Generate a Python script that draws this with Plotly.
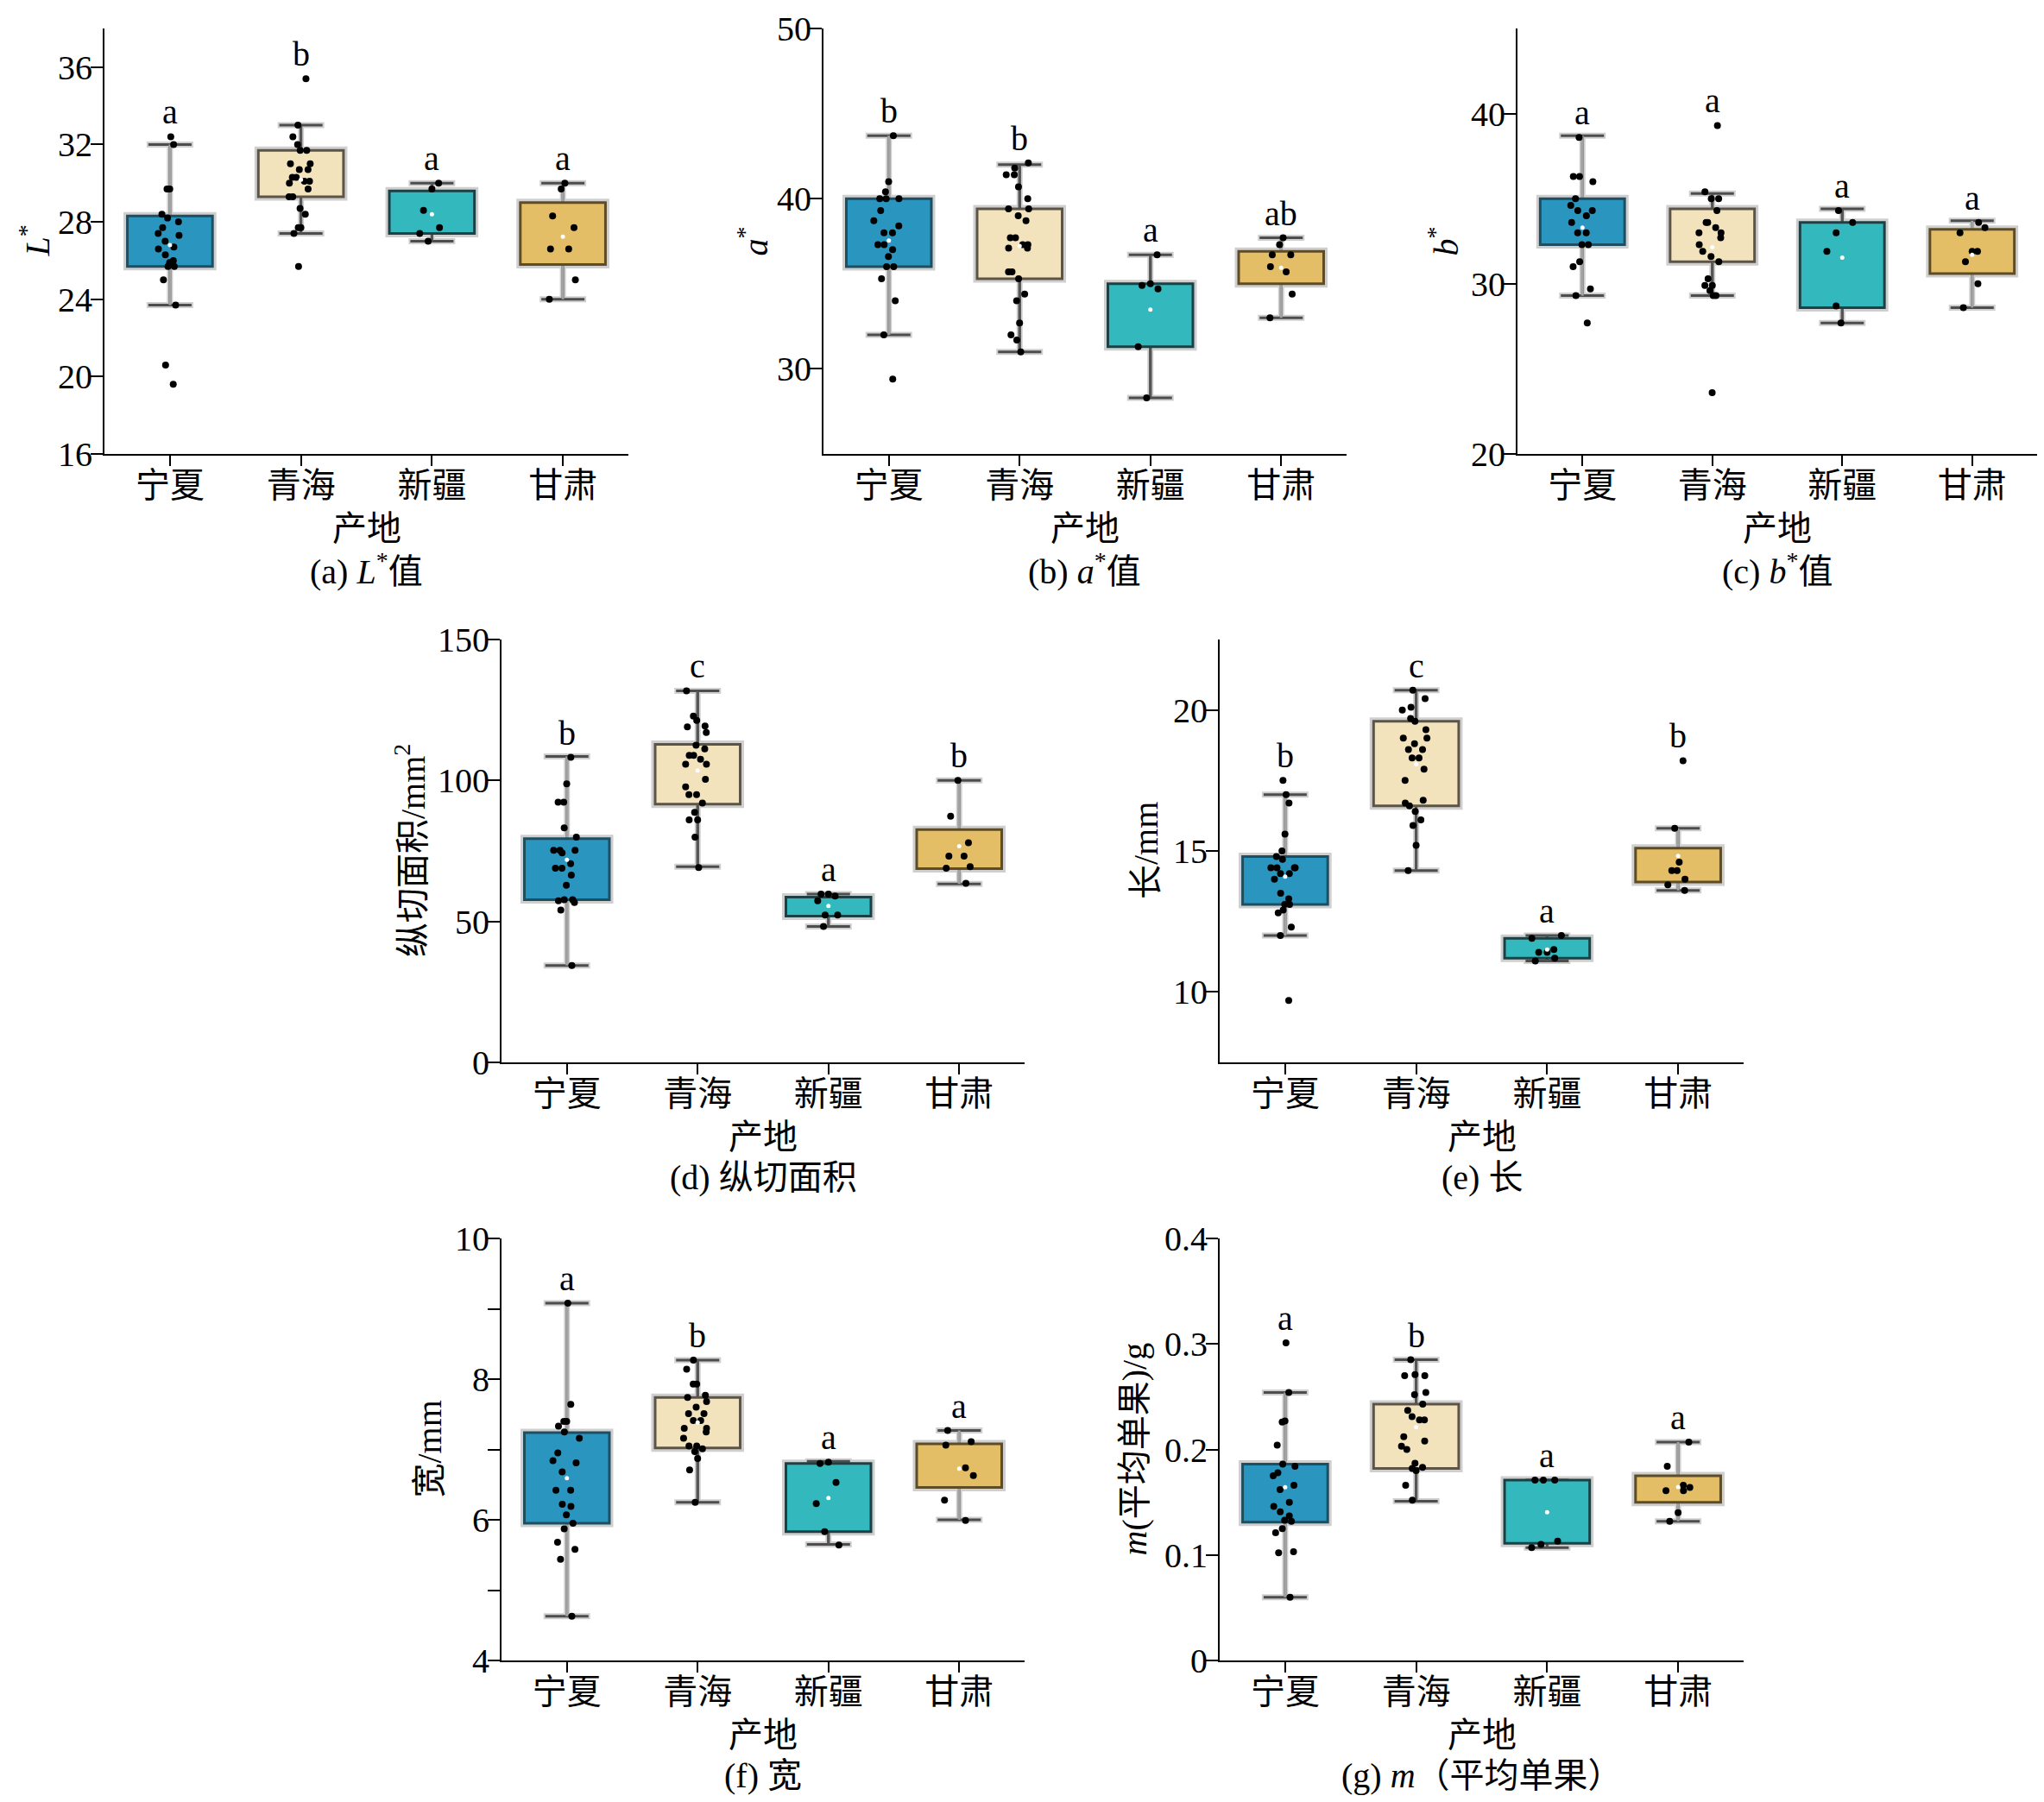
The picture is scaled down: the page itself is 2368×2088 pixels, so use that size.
import numpy as np
import plotly.graph_objects as go

categories = ['宁夏', '青海', '新疆', '甘肃']

# (a) L*
L_points = [
    [32.4, 32.0, 29.7, 29.7, 28.4, 28.2, 28.0, 27.7, 27.4, 27.3, 27.0, 26.7, 26.6, 26.3, 26.0, 25.9, 25.7, 25.7, 25.0, 23.7, 20.6, 19.6],
    [35.4, 33.0, 32.4, 32.0, 31.7, 31.7, 31.0, 31.0, 30.7, 30.7, 30.3, 30.3, 30.1, 30.1, 30.0, 29.7, 29.3, 29.3, 28.7, 28.4, 27.7, 27.7, 27.4, 25.7],
    [30.0, 29.7, 28.6, 27.7, 27.4, 27.0],
    [30.0, 29.7, 28.3, 27.7, 26.6, 26.6, 25.0, 24.0],
]
L_q1 = [25.7, 29.3, 27.4, 25.8]
L_q3 = [28.3, 31.7, 29.6, 29.0]
L_lo = [23.7, 27.4, 27.0, 24.0]
L_hi = [32.0, 33.0, 30.0, 30.0]
L_letters = ['a', 'b', 'a', 'a']

# (b) a*
a_points = [
    [43.7, 41.0, 40.4, 40.0, 40.0, 40.0, 39.3, 38.7, 38.4, 38.0, 38.0, 37.3, 37.3, 37.0, 36.6, 36.0, 36.0, 35.3, 34.0, 32.0, 29.4],
    [42.1, 41.8, 41.4, 41.4, 40.7, 40.0, 39.4, 39.4, 39.0, 38.7, 37.7, 37.7, 37.3, 37.3, 37.1, 37.1, 35.7, 35.7, 35.3, 34.4, 34.0, 32.7, 32.0, 31.7, 31.0],
    [36.7, 35.0, 34.9, 34.7, 31.3, 28.3],
    [37.7, 37.3, 36.7, 36.7, 36.0, 35.7, 34.4, 33.0],
]
a_q1 = [36.0, 35.3, 31.3, 35.0]
a_q3 = [40.0, 39.4, 35.0, 36.9]
a_lo = [32.0, 31.0, 28.3, 33.0]
a_hi = [43.7, 42.0, 36.7, 37.7]
a_letters = ['b', 'b', 'a', 'ab']

# (c) b*
b_points = [
    [38.6, 36.3, 36.3, 36.0, 35.0, 34.6, 34.3, 34.3, 34.0, 33.6, 33.0, 33.0, 32.3, 32.3, 31.3, 31.0, 29.7, 29.3, 27.7],
    [39.3, 35.4, 35.0, 35.0, 34.3, 33.6, 33.6, 33.3, 33.0, 33.0, 32.7, 32.3, 31.9, 31.6, 31.3, 30.3, 29.9, 29.9, 29.6, 29.3, 29.3, 23.6],
    [34.3, 33.6, 33.0, 31.9, 28.7, 27.7],
    [33.6, 33.3, 33.0, 31.9, 31.9, 31.3, 30.0, 28.6],
]
b_q1 = [32.3, 31.3, 28.6, 30.6]
b_q3 = [35.0, 34.4, 33.6, 33.2]
b_lo = [29.3, 29.3, 27.7, 28.6]
b_hi = [38.7, 35.3, 34.4, 33.7]
b_letters = ['a', 'a', 'a', 'a']

# (d) 纵切面积
area_points = [
    [108.2, 98.8, 92.3, 92.3, 83.2, 79.9, 75.2, 75.2, 75.2, 74.3, 70.5, 68.9, 68.9, 66.4, 62.8, 57.7, 57.7, 57.3, 56.7, 54.0, 34.4],
    [131.8, 122.8, 121.3, 119.3, 119.0, 117.0, 112.5, 111.2, 108.9, 108.9, 107.5, 105.8, 105.8, 100.4, 97.7, 95.0, 95.0, 92.0, 88.7, 86.0, 86.0, 79.9, 69.1],
    [59.7, 59.7, 59.0, 57.3, 52.3, 52.3, 48.2],
    [100.0, 87.3, 77.9, 73.2, 73.2, 69.4, 68.9, 63.5],
]
area_q1 = [57.7, 91.6, 51.9, 68.7]
area_q3 = [79.4, 112.8, 58.6, 82.6]
area_lo = [34.4, 69.4, 48.2, 63.3]
area_hi = [108.5, 131.8, 59.7, 100.0]
area_letters = ['b', 'c', 'a', 'b']

# (e) 长
len_points = [
    [17.5, 17.0, 16.7, 15.6, 15.0, 14.8, 14.7, 14.4, 14.4, 14.4, 14.4, 14.2, 14.2, 14.0, 13.5, 13.3, 13.1, 13.1, 12.9, 12.8, 12.3, 12.0, 9.7],
    [20.7, 20.4, 20.1, 20.0, 19.7, 19.6, 19.3, 19.0, 19.0, 18.8, 18.6, 18.6, 18.3, 18.3, 17.9, 17.5, 16.8, 16.7, 16.6, 16.4, 16.1, 15.9, 15.2, 14.3],
    [12.0, 11.9, 11.5, 11.4, 11.4, 11.2, 11.1],
    [18.2, 15.8, 14.6, 14.3, 14.3, 14.0, 13.8, 13.6],
]
len_q1 = [13.1, 16.6, 11.2, 13.9]
len_q3 = [14.8, 19.6, 11.9, 15.1]
len_lo = [12.0, 14.3, 11.1, 13.6]
len_hi = [17.0, 20.7, 12.0, 15.8]
len_letters = ['b', 'c', 'a', 'b']

# (f) 宽
wid_points = [
    [9.08, 7.64, 7.40, 7.40, 7.33, 7.25, 7.16, 6.95, 6.84, 6.81, 6.68, 6.42, 6.42, 6.22, 6.19, 6.07, 5.95, 5.87, 5.68, 5.58, 5.44, 4.63],
    [8.27, 8.14, 7.93, 7.93, 7.77, 7.74, 7.68, 7.60, 7.51, 7.51, 7.41, 7.41, 7.30, 7.30, 7.25, 7.16, 7.05, 7.05, 7.01, 6.97, 6.87, 6.71, 6.25],
    [6.82, 6.80, 6.53, 6.23, 5.83, 5.64],
    [7.27, 7.11, 7.06, 6.74, 6.63, 6.28, 5.99],
]
wid_q1 = [5.95, 7.02, 5.83, 6.46]
wid_q3 = [7.24, 7.74, 6.80, 7.08]
wid_lo = [4.63, 6.25, 5.65, 6.00]
wid_hi = [9.08, 8.27, 6.83, 7.27]
wid_letters = ['a', 'b', 'a', 'a']

# (g) m(平均单果)
mass_points = [
    [0.301, 0.254, 0.227, 0.226, 0.204, 0.186, 0.184, 0.178, 0.175, 0.166, 0.162, 0.150, 0.146, 0.141, 0.137, 0.133, 0.132, 0.125, 0.121, 0.103, 0.102, 0.060],
    [0.285, 0.271, 0.270, 0.270, 0.254, 0.252, 0.243, 0.237, 0.231, 0.228, 0.228, 0.212, 0.208, 0.203, 0.200, 0.187, 0.183, 0.182, 0.180, 0.166, 0.152],
    [0.171, 0.171, 0.171, 0.113, 0.110, 0.107],
    [0.207, 0.184, 0.166, 0.164, 0.161, 0.161, 0.140, 0.132],
]
mass_q1 = [0.131, 0.182, 0.111, 0.150]
mass_q3 = [0.186, 0.243, 0.171, 0.175]
mass_lo = [0.060, 0.151, 0.107, 0.132]
mass_hi = [0.254, 0.285, 0.171, 0.207]
mass_letters = ['a', 'b', 'a', 'a']

fill_colors = ['#2a96bf', '#f3e3bd', '#33b8bd', '#e3be66']
edge_colors = ['#1f4e60', '#5c5547', '#1c4044', '#5e4c26']
whisker_colors = ['#a3a3a3', '#555555', '#555555', '#a3a3a3']
cap_color = '#4d4d4d'
halo_color = '#cfcfcf'

FONT = 'Liberation Serif, Noto Sans CJK SC, serif'
OFF = 8  # page body margin in the browser
W, H = 2368 - 2 * OFF, 2088 - 2 * OFF

panels = [
    dict(pts=L_points, q1=L_q1, q3=L_q3, lo=L_lo, hi=L_hi, let=L_letters,
         rng=[16, 38], tv=[16, 20, 24, 28, 32, 36], tt=None,
         ytitle='<i>L</i><sup>*</sup>', cap='(a) <i>L</i><sup>*</sup>值',
         px=(121, 728), py=(33, 526), tx=41),
    dict(pts=a_points, q1=a_q1, q3=a_q3, lo=a_lo, hi=a_hi, let=a_letters,
         rng=[25, 50], tv=[30, 40, 50], tt=None,
         ytitle='<i>a</i><sup>*</sup>', cap='(b) <i>a</i><sup>*</sup>值',
         px=(954, 1560), py=(33, 526), tx=873),
    dict(pts=b_points, q1=b_q1, q3=b_q3, lo=b_lo, hi=b_hi, let=b_letters,
         rng=[20, 45], tv=[20, 30, 40], tt=None,
         ytitle='<i>b</i><sup>*</sup>', cap='(c) <i>b</i><sup>*</sup>值',
         px=(1758, 2368), py=(33, 526), tx=1673),
    dict(pts=area_points, q1=area_q1, q3=area_q3, lo=area_lo, hi=area_hi, let=area_letters,
         rng=[0, 150], tv=[0, 50, 100, 150], tt=None,
         ytitle='纵切面积/mm<sup>2</sup>', cap='(d) 纵切面积',
         px=(581, 1187), py=(741, 1231), tx=476),
    dict(pts=len_points, q1=len_q1, q3=len_q3, lo=len_lo, hi=len_hi, let=len_letters,
         rng=[7.5, 22.5], tv=[10, 15, 20], tt=None,
         ytitle='长/mm', cap='(e) 长',
         px=(1413, 2020), py=(741, 1231), tx=1328),
    dict(pts=wid_points, q1=wid_q1, q3=wid_q3, lo=wid_lo, hi=wid_hi, let=wid_letters,
         rng=[4, 10], tv=[4, 5, 6, 7, 8, 9, 10], tt=['4', ' ', '6', ' ', '8', ' ', '10'],
         ytitle='宽/mm', cap='(f) 宽',
         px=(581, 1187), py=(1435, 1924), tx=497),
    dict(pts=mass_points, q1=mass_q1, q3=mass_q3, lo=mass_lo, hi=mass_hi, let=mass_letters,
         rng=[0, 0.4], tv=[0, 0.1, 0.2, 0.3, 0.4], tt=['0', '0.1', '0.2', '0.3', '0.4'],
         ytitle='<i>m</i>(平均单果)/g', cap='(g) <i>m</i>（平均单果）',
         px=(1413, 2020), py=(1435, 1924), tx=1314),
]


def fx(v):
    return min((v - OFF) / W, 1.0)


def fy(v):
    return 1 - (v - OFF) / H


fig = go.Figure()
layout = dict(width=W, height=H, autosize=False, margin=dict(l=0, r=0, t=0, b=0, pad=0),
              paper_bgcolor='white', plot_bgcolor='white',
              barmode='overlay', boxmode='overlay', showlegend=False,
              font=dict(family=FONT, size=40, color='black'))
annotations = []

for k, p in enumerate(panels, start=1):
    sfx = '' if k == 1 else str(k)
    xa, ya = 'x' + sfx, 'y' + sfx
    xdom = [fx(p['px'][0]), fx(p['px'][1])]
    ydom = [fy(p['py'][1]), fy(p['py'][0])]

    for i, cat in enumerate(categories):
        q1, q3, lo, hi = p['q1'][i], p['q3'][i], p['lo'][i], p['hi'][i]
        err = dict(type='data', symmetric=False, array=[hi - q3], arrayminus=[q3 - lo])
        clear = dict(color='rgba(0,0,0,0)', line=dict(width=0))
        # light halo, dark caps, whisker line, then the box on top
        fig.add_trace(go.Bar(x=[cat], base=[q1], y=[q3 - q1], width=0.65,
                             marker=dict(color='rgba(0,0,0,0)', line=dict(color=halo_color, width=9)),
                             error_y=dict(err, color=halo_color, thickness=7, width=27),
                             xaxis=xa, yaxis=ya, hoverinfo='skip'))
        fig.add_trace(go.Bar(x=[cat], base=[q1], y=[q3 - q1], width=0.65, marker=clear,
                             error_y=dict(err, color=cap_color, thickness=3, width=25),
                             xaxis=xa, yaxis=ya, hoverinfo='skip'))
        fig.add_trace(go.Bar(x=[cat], base=[q1], y=[q3 - q1], width=0.65, marker=clear,
                             error_y=dict(err, color=whisker_colors[i], thickness=3, width=0),
                             xaxis=xa, yaxis=ya, hoverinfo='skip'))
        fig.add_trace(go.Bar(x=[cat], base=[q1], y=[q3 - q1], width=0.65,
                             marker=dict(color=fill_colors[i], line=dict(color=edge_colors[i], width=3)),
                             xaxis=xa, yaxis=ya, hoverinfo='skip'))

    xs = [cat for cat, pts in zip(categories, p['pts']) for _ in pts]
    ys = [v for pts in p['pts'] for v in pts]
    fig.add_trace(go.Box(x=xs, y=ys, boxpoints='all', jitter=0.8, pointpos=0, width=0.3,
                         fillcolor='rgba(0,0,0,0)', line=dict(width=0, color='rgba(0,0,0,0)'),
                         marker=dict(color='black', size=8),
                         xaxis=xa, yaxis=ya, hoverinfo='skip'))
    fig.add_trace(go.Scatter(x=categories, y=[float(np.mean(pts)) for pts in p['pts']],
                             mode='markers', marker=dict(color='white', size=5),
                             xaxis=xa, yaxis=ya, hoverinfo='skip'))

    layout['xaxis' + sfx] = dict(domain=xdom, anchor=ya, type='category', automargin=False,
                                 categoryorder='array', categoryarray=categories,
                                 range=[-0.5, 3.5], showline=True, linecolor='black', linewidth=2,
                                 ticks='outside', ticklen=12, tickwidth=2, tickcolor='black',
                                 ticklabelstandoff=-12,
                                 showgrid=False, zeroline=False, tickfont=dict(size=40))
    yax = dict(domain=ydom, anchor=xa, range=p['rng'], tickvals=p['tv'], automargin=False,
               showline=True, linecolor='black', linewidth=2,
               ticks='outside', ticklen=14, tickwidth=2, tickcolor='black',
               ticklabelstandoff=-10,
               showgrid=False, zeroline=False, tickfont=dict(size=40))
    if p['tt'] is not None:
        yax['ticktext'] = p['tt']
    layout['yaxis' + sfx] = yax

    for i, cat in enumerate(categories):
        annotations.append(dict(x=cat, y=max(p['pts'][i]), xref=xa, yref=ya,
                                text=p['let'][i], showarrow=False, xanchor='center',
                                yanchor='bottom', yshift=4, font=dict(size=40)))

    xc = (xdom[0] + xdom[1]) / 2
    annotations.append(dict(x=xc, y=fy(p['py'][1] + 86), xref='paper', yref='paper',
                            text='产地', showarrow=False, xanchor='center', yanchor='middle',
                            font=dict(size=40)))
    annotations.append(dict(x=xc, y=fy(p['py'][1] + 133), xref='paper', yref='paper',
                            text=p['cap'], showarrow=False, xanchor='center', yanchor='middle',
                            font=dict(size=40)))
    annotations.append(dict(x=fx(p['tx']), y=(ydom[0] + ydom[1]) / 2, xref='paper', yref='paper',
                            text=p['ytitle'], textangle=-90, showarrow=False,
                            xanchor='center', yanchor='middle', font=dict(size=40)))

layout['annotations'] = annotations
fig.update_layout(**layout)
fig.write_html('out.html')
